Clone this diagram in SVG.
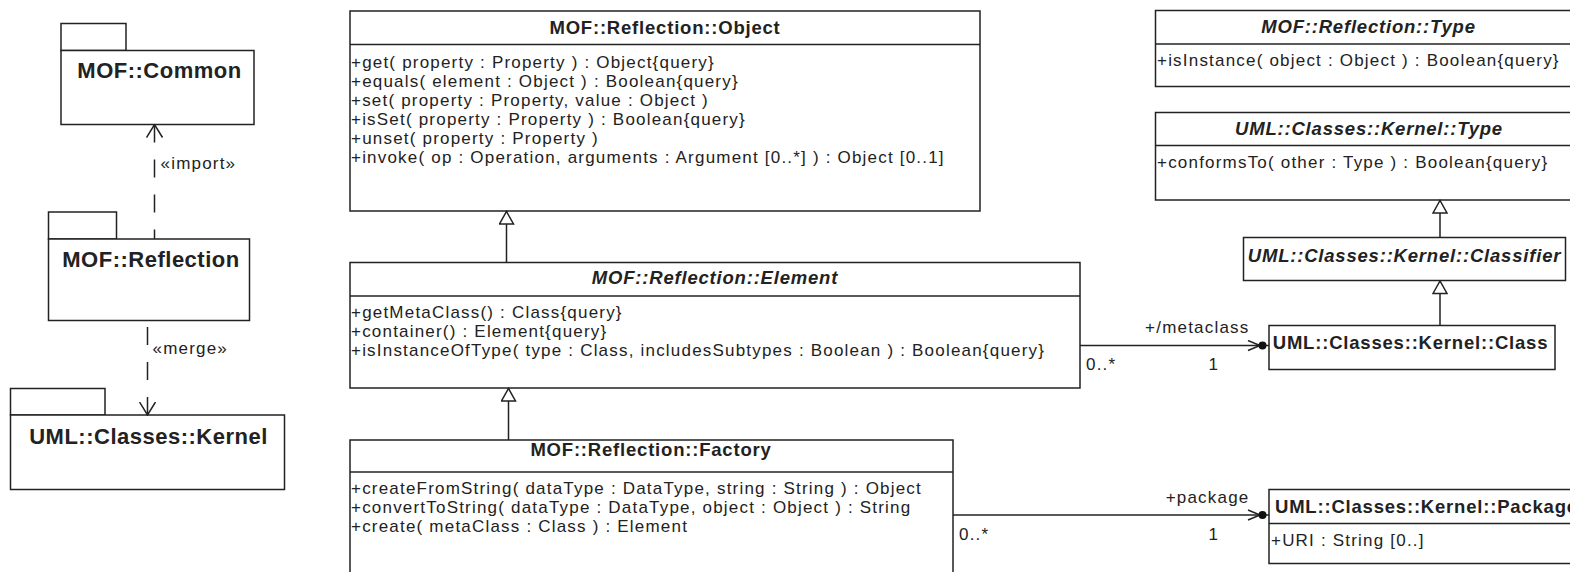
<svg xmlns="http://www.w3.org/2000/svg" width="1570" height="572" viewBox="0 0 1570 572">
  <style>
    .box { fill: #fff; stroke: #222; stroke-width: 1.5; }
    .sep { stroke: #222; stroke-width: 1.5; fill: none; }
    .ln { stroke: #222; stroke-width: 1.5; fill: none; }
    .dash { stroke: #222; stroke-width: 1.5; fill: none; stroke-dasharray: 18 17; }
    text { font-family: "Liberation Sans", Arial, sans-serif; fill: #222; }
    .t { font-size: 17px; letter-spacing: 1.2px; }
    .h { font-size: 18.5px; font-weight: bold; letter-spacing: 0.8px; text-anchor: middle; }
    .hl { font-size: 18.5px; font-weight: bold; letter-spacing: 0.8px; }
    .i { font-style: italic; }
    .pk { font-size: 22px; font-weight: bold; letter-spacing: 0.5px; text-anchor: middle; }
    .end { text-anchor: end; }
  </style>
  <defs>
    <!-- hollow generalization triangle -->
    <marker id="gen" markerUnits="userSpaceOnUse" viewBox="0 0 15 16" markerWidth="15" markerHeight="16" refX="14" refY="8" orient="auto">
      <path d="M1,1 L13.5,8 L1,15 Z" fill="#fff" stroke="#222" stroke-width="1.5"/>
    </marker>
    <!-- open dependency arrowhead -->
    <marker id="dep" markerUnits="userSpaceOnUse" viewBox="0 0 14 18" markerWidth="14" markerHeight="18" refX="13" refY="9" orient="auto-start-reverse">
      <path d="M0,1 L13,9 L0,17" fill="none" stroke="#222" stroke-width="1.5"/>
    </marker>
    <!-- navigable association end with ownership dot -->
    <marker id="own" markerUnits="userSpaceOnUse" viewBox="0 0 22 12" markerWidth="22" markerHeight="12" refX="22" refY="6" orient="auto">
      <path d="M1,1 L13,6 L1,11" fill="none" stroke="#222" stroke-width="1.5"/>
      <circle cx="15.5" cy="6" r="4" fill="#111"/>
    </marker>
  </defs>

  <!-- packages -->
  <g id="pkg-mof-common">
    <rect class="box" x="61" y="23.5" width="65" height="27"/>
    <rect class="box" x="61" y="50.5" width="193" height="74"/>
    <text class="pk" x="159.5" y="78">MOF::Common</text>
  </g>
  <g id="pkg-mof-reflection">
    <rect class="box" x="48.5" y="212" width="68" height="27"/>
    <rect class="box" x="48.5" y="239" width="201" height="81.5"/>
    <text class="pk" x="151" y="267">MOF::Reflection</text>
  </g>
  <g id="pkg-uml-kernel">
    <rect class="box" x="10.5" y="388.5" width="94.5" height="26.5"/>
    <rect class="box" x="10.5" y="415" width="274" height="74.5"/>
    <text class="pk" x="148.5" y="443.5">UML::Classes::Kernel</text>
  </g>

  <!-- classes -->
  <g id="cls-object">
    <rect class="box" x="350" y="11" width="630" height="200"/>
    <path class="sep" d="M350,44.5 H980"/>
    <text class="h" x="665" y="34">MOF::Reflection::Object</text>
    <text class="t" x="351" y="67.5">+get( property : Property ) : Object{query}</text>
    <text class="t" x="351" y="86.5">+equals( element : Object ) : Boolean{query}</text>
    <text class="t" x="351" y="105.5">+set( property : Property, value : Object )</text>
    <text class="t" x="351" y="124.5">+isSet( property : Property ) : Boolean{query}</text>
    <text class="t" x="351" y="143.5">+unset( property : Property )</text>
    <text class="t" x="351" y="162.5">+invoke( op : Operation, arguments : Argument [0..*] ) : Object [0..1]</text>
  </g>

  <g id="cls-element">
    <rect class="box" x="350" y="262.5" width="730" height="125.5"/>
    <path class="sep" d="M350,296 H1080"/>
    <text class="h i" x="715" y="283.5">MOF::Reflection::Element</text>
    <text class="t" x="351" y="318">+getMetaClass() : Class{query}</text>
    <text class="t" x="351" y="337">+container() : Element{query}</text>
    <text class="t" x="351" y="356">+isInstanceOfType( type : Class, includesSubtypes : Boolean ) : Boolean{query}</text>
  </g>

  <g id="cls-factory">
    <rect class="box" x="350" y="440" width="603" height="160"/>
    <path class="sep" d="M350,472 H953"/>
    <text class="h" x="651" y="456">MOF::Reflection::Factory</text>
    <text class="t" x="351" y="494">+createFromString( dataType : DataType, string : String ) : Object</text>
    <text class="t" x="351" y="513">+convertToString( dataType : DataType, object : Object ) : String</text>
    <text class="t" x="351" y="532">+create( metaClass : Class ) : Element</text>
  </g>

  <g id="cls-mof-type">
    <rect class="box" x="1155.5" y="10.5" width="426" height="76"/>
    <path class="sep" d="M1155.5,44 H1581.5"/>
    <text class="h i" x="1368.5" y="33">MOF::Reflection::Type</text>
    <text class="t" x="1157" y="66">+isInstance( object : Object ) : Boolean{query}</text>
  </g>

  <g id="cls-uml-type">
    <rect class="box" x="1155.5" y="112.5" width="426" height="87.5"/>
    <path class="sep" d="M1155.5,145.5 H1581.5"/>
    <text class="h i" x="1369" y="135">UML::Classes::Kernel::Type</text>
    <text class="t" x="1157" y="168">+conformsTo( other : Type ) : Boolean{query}</text>
  </g>

  <g id="cls-classifier">
    <rect class="box" x="1243.5" y="237.5" width="322" height="43"/>
    <text class="h i" x="1404.5" y="261.5">UML::Classes::Kernel::Classifier</text>
  </g>

  <g id="cls-class">
    <rect class="box" x="1269" y="325.5" width="286" height="44"/>
    <text class="h" x="1410.5" y="349">UML::Classes::Kernel::Class</text>
  </g>

  <g id="cls-package">
    <rect class="box" x="1269" y="489.5" width="330" height="74"/>
    <path class="sep" d="M1269,523.5 H1599"/>
    <text class="hl" x="1275" y="513">UML::Classes::Kernel::Package</text>
    <text class="t" x="1271" y="546">+URI : String [0..]</text>
  </g>

  <!-- connectors -->
  <g id="connectors">
    <!-- package dependencies -->
    <path class="dash" d="M154.5,124.5 V239" marker-start="url(#dep)"/>
    <text class="t" x="160.5" y="168.5">«import»</text>
    <path class="dash" d="M147.5,415 V320.5" marker-start="url(#dep)"/>
    <text class="t" x="152.5" y="354">«merge»</text>

    <!-- generalizations -->
    <path class="ln" d="M506.5,262.5 V211" marker-end="url(#gen)"/>
    <path class="ln" d="M508.5,440 V388" marker-end="url(#gen)"/>
    <path class="ln" d="M1440,237.5 V200" marker-end="url(#gen)"/>
    <path class="ln" d="M1440,325.5 V280.5" marker-end="url(#gen)"/>

    <!-- associations -->
    <path class="ln" d="M1080,345.5 H1269" marker-end="url(#own)"/>
    <text class="t end" x="1249.5" y="333">+/metaclass</text>
    <text class="t" x="1086" y="370">0..*</text>
    <text class="t" x="1208.5" y="370">1</text>

    <path class="ln" d="M953,515 H1269" marker-end="url(#own)"/>
    <text class="t end" x="1249.5" y="503">+package</text>
    <text class="t" x="959" y="540">0..*</text>
    <text class="t" x="1208.5" y="540">1</text>
  </g>
</svg>
